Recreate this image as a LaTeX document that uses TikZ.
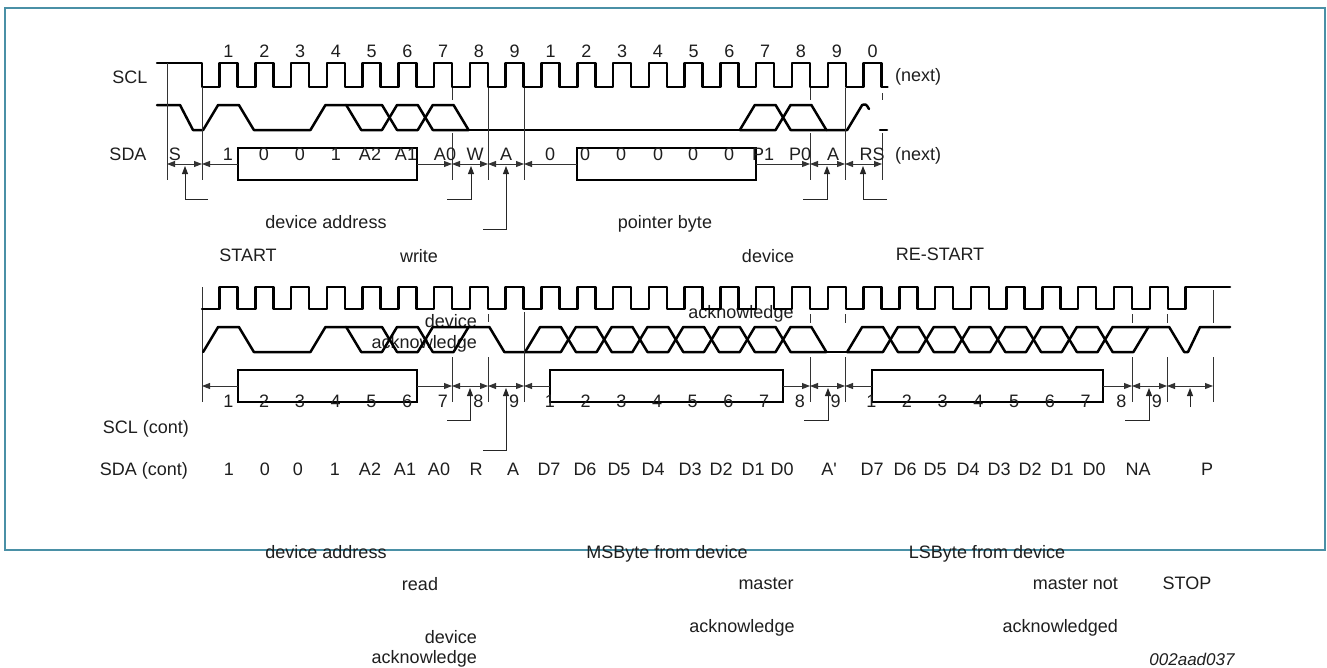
\documentclass[tikz,border=0pt]{standalone}
\usepackage{fontspec}
\setmainfont{Liberation Sans}
\usetikzlibrary{arrows.meta}
\definecolor{frame}{RGB}{74,144,166}
\definecolor{txt}{RGB}{30,30,30}
\newcommand\xrunhalf[8]{%
  \draw[wave] ({tt(#1)-7.5},#5) -- ({tt(#1)+7.5},#7)
    foreach \j in {#2,...,#3}{ -- ({tt(\j)-7.5},{#8+(#7-#8)*mod(\j-#1,2)}) -- ({tt(\j)+7.5},{#7+(#8-#7)*mod(\j-#1,2)}) }
    -- ({tt(#4)-7.5},{#8+(#7-#8)*mod(#4-#1,2)}) -- ({tt(#4)+7.5},#6);}
\newcommand\xrun[8]{\xrunhalf{#1}{#2}{#3}{#4}{#5}{#6}{#7}{#8}\xrunhalf{#1}{#2}{#3}{#4}{#5}{#6}{#8}{#7}}
\begin{document}
\begin{tikzpicture}[x=1pt,y=-1pt,
  declare function={tt(\k)=210.61+\k*35.78; cc(\k)=228.5+(\k-1)*35.78;},
  >={Triangle[length=8pt,width=6pt]},
  wave/.style={line width=2.5pt, line cap=round, line join=round},
  box/.style={line width=2.5pt},
  thinl/.style={line width=0.9pt, draw=black!80},
  lead/.style={line width=0.9pt, draw=black!85, ->},
  lbl/.style={font=\fontsize{18}{20}\selectfont, text=txt, inner sep=0pt, anchor=base},
  lblr/.style={lbl, anchor=base east},
]
\useasboundingbox (0,0) rectangle (1327,667);
\draw[frame, line width=1.3pt] (5,8) rectangle (1325,550);

% ---------- Row 1 ----------
\node[lbl] (sclA) at (130,83) {SCL};
\node[lbl] (sdaA) at (128,160) {SDA};
\foreach \k/\d in {1/1,2/2,3/3,4/4,5/5,6/6,7/7,8/8,9/9,10/1,11/2,12/3,13/4,14/5,15/6,16/7,17/8,18/9,19/0}
  \node[lbl] (clk\k) at ({cc(\k)},57) {\d};
\node[lbl] (nextA) at (918,81) {(next)};
\node[lbl] (nextB) at (918,160) {(next)};

% SCL row 1
\draw[wave] (157,63) -- (202,63) -- (202,87)
  foreach \k in {1,...,19}{ -- ({cc(\k)-9},87) -- ({cc(\k)-9},63) -- ({cc(\k)+9},63) -- ({cc(\k)+9},87) } -- ++(6,0);
% SDA row 1
\draw[wave] (157,105) -- (180,105) -- (193,130) -- ({tt(0)-7.5},130) -- ({tt(0)+7.5},105) -- ({tt(1)-7.5},105)
  -- ({tt(1)+7.5},130) -- ({tt(3)-7.5},130) -- ({tt(3)+7.5},105) -- ({tt(4)-7.5},105);
\xrun{4}{5}{6}{7}{105}{130}{105}{130}
\draw[wave] ({tt(7)+7.5},130) -- ({tt(15)-7.5},130);
\xrun{15}{16}{16}{17}{130}{130}{105}{130}
\draw[wave] ({tt(17)+7.5},130) -- ({tt(18)-7.5},130) -- ({tt(18)+7.5},105) .. controls (866,104) .. (869,109);
\draw[wave] (880,130) -- (887,130);

% vertical markers row 1
\draw[thinl] (167,63) -- (167,180);
\draw[thinl] (202,87) -- (202,180);
\draw[thinl] (452,88) -- (452,100) (452,133) -- (452,180);
\draw[thinl] (488,88) -- (488,180);
\draw[thinl] (524,88) -- (524,180);
\draw[thinl] (810,88) -- (810,100) (810,133) -- (810,180);
\draw[thinl] (845,88) -- (845,180);
\draw[thinl] (882,93) -- (882,100) (882,133) -- (882,180);

% boxes row 1
\draw[box] (238,148) rectangle (417,180);
\draw[box] (577,148) rectangle (756,180);

% dimension arrows row 1
\draw[thinl,<->] (167,164) -- (202,164);
\draw[thinl,->] (238,164) -- (202,164);
\draw[thinl,->] (417,164) -- (452,164);
\draw[thinl,<->] (452,164) -- (488,164);
\draw[thinl,<->] (488,164) -- (524,164);
\draw[thinl,->] (577,164) -- (524,164);
\draw[thinl,->] (756,164) -- (810,164);
\draw[thinl,<->] (810,164) -- (845,164);
\draw[thinl,<->] (845,164) -- (882,164);

% leaders row 1
\draw[lead] (208,199) -- (185,199) -- (185,166);
\draw[lead] (447,199) -- (471,199) -- (471,166);
\draw[lead] (483,229) -- (506,229) -- (506,166);
\draw[lead] (803,199) -- (827,199) -- (827,166);
\draw[lead] (887,199) -- (863,199) -- (863,166);

% SDA labels row 1
\foreach \x/\t [count=\i] in {175/S,228/1,264/0,300/0,336/1,370/A2,406/A1,445/A0,475/W,506/A,550/0,585/0,621/0,658/0,693/0,729/0,763/P1,800/P0,833/A,872/RS}
  \node[lbl] (sa\i) at (\x,160) {\t};

% middle labels
\node[lbl] (devaddA) at (326,228) {device address};
\node[lbl] (ptrbyte) at (665,228) {pointer byte};
\node[lbl] (start) at (248,261) {START};
\node[lbl] (write) at (419,262) {write};
\node[lbl] (devB) at (768,262) {device};
\node[lbl] (restart) at (940,260) {RE-START};
\node[lblr] (devC) at (477,327) {device};
\node[lblr] (ackC) at (477,348) {acknowledge};
\node[lbl] (ackB) at (741,318) {acknowledge};

% ---------- Row 2 ----------
\draw[thinl] (202,287) -- (202,402);
\draw[wave] (202,309)
  foreach \k in {1,...,27}{ -- ({cc(\k)-9},309) -- ({cc(\k)-9},287) -- ({cc(\k)+9},287) -- ({cc(\k)+9},309) }
  -- ({cc(28)-9},309) -- ({cc(28)-9},287) -- (1230,287);
\draw[wave] ({tt(0)-7.5},352) -- ({tt(0)+7.5},327) -- ({tt(1)-7.5},327) -- ({tt(1)+7.5},352) -- ({tt(3)-7.5},352)
  -- ({tt(3)+7.5},327) -- ({tt(4)-7.5},327);
\xrun{4}{5}{6}{7}{327}{327}{327}{352}
\draw[wave] ({tt(7)+7.5},327) -- ({tt(8)-7.5},327) -- ({tt(8)+7.5},352) -- ({tt(9)-7.5},352);
\xrun{9}{10}{16}{17}{352}{352}{327}{352}
\draw[wave] ({tt(17)+7.5},352) -- ({tt(18)-7.5},352);
\xrun{18}{19}{25}{26}{352}{327}{327}{352}
\draw[wave] ({tt(26)+7.5},327) -- ({tt(27)-7.5},327) -- ({tt(27)+7.5},352) -- (1188,352) -- (1200,327) -- (1230,327);

% vertical markers row 2
\draw[thinl] (452,357) -- (452,402);
\draw[thinl] (488,314) -- (488,322) (488,357) -- (488,402);
\draw[thinl] (524,312) -- (524,402);
\foreach \x in {810,845,1132,1167}
  \draw[thinl] (\x,314) -- (\x,323) (\x,357) -- (\x,402);
\draw[thinl] (1213,290) -- (1213,323) (1213,357) -- (1213,402);

% boxes row 2
\draw[box] (238,370) rectangle (417,402);
\draw[box] (550,370) rectangle (783,402);
\draw[box] (872,370) rectangle (1103,402);

% dimension arrows row 2
\draw[thinl,->] (238,386) -- (202,386);
\draw[thinl,->] (417,386) -- (452,386);
\draw[thinl,<->] (452,386) -- (488,386);
\draw[thinl,<->] (488,386) -- (524,386);
\draw[thinl,->] (550,386) -- (524,386);
\draw[thinl,->] (783,386) -- (810,386);
\draw[thinl,<->] (810,386) -- (845,386);
\draw[thinl,->] (872,386) -- (845,386);
\draw[thinl,->] (1103,386) -- (1132,386);
\draw[thinl,<->] (1132,386) -- (1167,386);
\draw[thinl,<->] (1167,386) -- (1213,386);

% leaders row 2
\draw[lead] (447,420) -- (470,420) -- (470,388);
\draw[lead] (483,450) -- (506,450) -- (506,388);
\draw[lead] (804,420) -- (828,420) -- (828,388);
\draw[lead] (1125,420) -- (1149,420) -- (1149,388);
\draw[lead] (1190,407) -- (1190,388);

% bit numbers row 2
\foreach \k in {1,...,27}{
  \pgfmathtruncatemacro\d{mod(\k-1,9)+1}
  \node[lbl] (bn\k) at ({cc(\k)-0.07*(\k-1)},407) {\d};
}

\node[lbl] (sclB) at (146,433) {SCL (cont)};
\node[lbl] (sdaB) at (144,475) {SDA (cont)};
\foreach \x/\t [count=\i] in {229/1,265/0,298/0,335/1,370/A2,405/A1,439/A0,476/R,513/A,549/D7,585/D6,619/D5,653/D4,690/D3,721/D2,753/D1,782/D0,829/A\textquotesingle,872/D7,905/D6,935/D5,968/D4,999/D3,1030/D2,1062/D1,1094/D0,1138/NA,1207/P}
  \node[lbl] (sv\i) at (\x,475) {\t};

% bottom labels
\node[lbl] (devaddB) at (326,558) {device address};
\node[lbl] (msb) at (667,558) {MSByte from device};
\node[lbl] (lsb) at (987,558) {LSByte from device};
\node[lbl] (read) at (420,590) {read};
\node[lbl] (master) at (766,589) {master};
\node[lblr] (mnot) at (1118,589) {master not};
\node[lbl] (stop) at (1187,589) {STOP};
\node[lblr] (devD) at (477,643) {device};
\node[lblr] (ackD) at (477,663) {acknowledge};
\node[lbl] (ackE) at (742,632) {acknowledge};
\node[lblr] (ackF) at (1118,632) {acknowledged};
\node[lbl, font=\fontsize{17}{20}\selectfont\itshape] (code) at (1192,665) {002aad037};
\end{tikzpicture}
\end{document}
